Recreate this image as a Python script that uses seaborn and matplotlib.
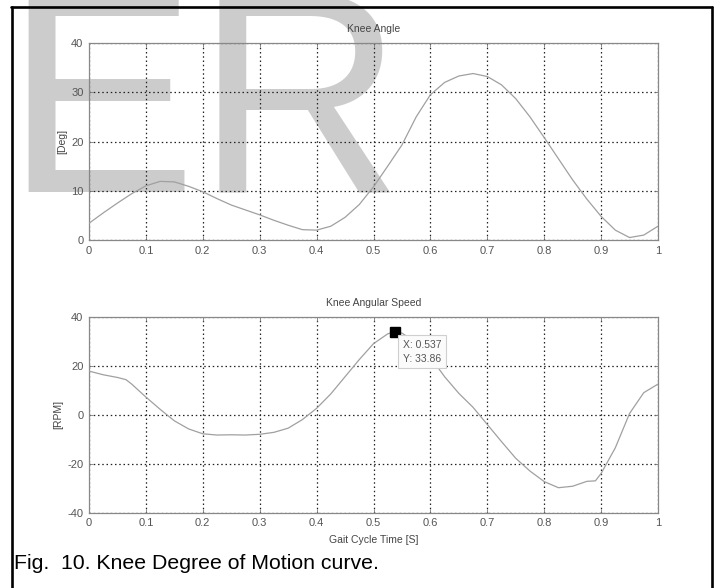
import numpy as np
import pandas as pd
import matplotlib
matplotlib.use("Agg")
import matplotlib.pyplot as plt
from matplotlib.lines import Line2D
import seaborn as sns

# ---- data ----
angle_t = [0.000, 0.025, 0.050, 0.075, 0.100, 0.125, 0.150, 0.175, 0.200, 0.225,
           0.250, 0.275, 0.300, 0.325, 0.350, 0.375, 0.400, 0.425, 0.450, 0.475,
           0.500, 0.525, 0.550, 0.575, 0.600, 0.625, 0.650, 0.675, 0.700, 0.725,
           0.750, 0.775, 0.800, 0.825, 0.850, 0.875, 0.900, 0.925, 0.950, 0.975, 1.000]
angle_deg = [3.4, 5.5, 7.5, 9.4, 11.0, 11.9, 11.8, 10.9, 9.8, 8.4,
             7.1, 6.1, 5.1, 4.0, 3.0, 2.1, 2.0, 2.8, 4.6, 7.2,
             10.8, 15.0, 19.3, 25.0, 29.5, 32.0, 33.3, 33.8, 33.2, 31.5,
             28.7, 25.0, 20.8, 16.5, 12.2, 8.3, 4.8, 2.0, 0.5, 1.0, 2.8]

speed_t = [0.000, 0.025, 0.050, 0.065, 0.075, 0.100, 0.125, 0.150, 0.175, 0.200,
           0.225, 0.250, 0.275, 0.300, 0.325, 0.350, 0.375, 0.400, 0.425, 0.450,
           0.475, 0.500, 0.525, 0.537, 0.550, 0.575, 0.600, 0.625, 0.650, 0.675,
           0.700, 0.725, 0.750, 0.775, 0.800, 0.825, 0.850, 0.875, 0.890, 0.900,
           0.925, 0.950, 0.975, 1.000]
speed_rpm = [17.8, 16.3, 15.2, 14.3, 12.5, 7.2, 2.2, -2.5, -5.8, -7.8,
             -8.3, -8.2, -8.3, -8.0, -7.2, -5.5, -2.0, 2.6, 8.5, 15.5,
             22.5, 29.0, 33.0, 33.86, 33.3, 29.5, 23.5, 15.5, 8.7, 3.0,
             -4.0, -11.0, -17.8, -23.0, -27.3, -29.8, -29.2, -27.2, -27.0, -24.0,
             -13.5, 0.5, 9.0, 12.5]

x_ticks = [0, 0.1, 0.2, 0.3, 0.4, 0.5, 0.6, 0.7, 0.8, 0.9, 1]
x_tick_labels = ["0", "0.1", "0.2", "0.3", "0.4", "0.5", "0.6", "0.7", "0.8", "0.9", "1"]
angle_yticks = [0, 10, 20, 30, 40]
speed_yticks = [-40, -20, 0, 20, 40]
tip_x, tip_y = 0.537, 33.86

sns.set_theme(style="white")
plt.rcParams["font.family"] = ["Liberation Sans", "DejaVu Sans"]
plt.rcParams["axes.unicode_minus"] = False

W, H = 719, 588
fig = plt.figure(figsize=(W / 100, H / 100), dpi=100)
fig.patch.set_facecolor("white")

def fx(px):
    return px / W

def fy(py):
    return 1 - py / H

# watermark
fig.text(fx(4), fy(192), "ER", fontsize=207, color="#cccccc", ha="left",
         va="baseline", zorder=-5, family="Liberation Sans")

# outer frame
lw_frame = 1.9
fig.add_artist(Line2D([fx(11.5), fx(11.5)], [fy(6.5), fy(590)], color="black", lw=lw_frame))
fig.add_artist(Line2D([fx(11), fx(712)], [fy(6.5), fy(6.5)], color="black", lw=lw_frame))
fig.add_artist(Line2D([fx(711.5), fx(711.5)], [fy(6.5), fy(590)], color="black", lw=lw_frame))

ax1 = fig.add_axes([fx(89), fy(240), (658 - 89) / W, (240 - 43) / H])
ax2 = fig.add_axes([fx(89), fy(512.7), (658 - 89) / W, (512.7 - 316.7) / H])

df1 = pd.DataFrame({"t": angle_t, "v": angle_deg})
df2 = pd.DataFrame({"t": speed_t, "v": speed_rpm})

line_col = "#a0a0a0"
sns.lineplot(data=df1, x="t", y="v", ax=ax1, color=line_col, lw=0.9, zorder=4)
sns.lineplot(data=df2, x="t", y="v", ax=ax2, color=line_col, lw=0.9, zorder=4)

txt_col = "#555555"
for ax, yt, ylim, title, ylab in [
    (ax1, angle_yticks, (0, 40), "Knee Angle", "[Deg]"),
    (ax2, speed_yticks, (-40, 40), "Knee Angular Speed", "[RPM]"),
]:
    ax.set_facecolor("none")
    ax.set_xlim(0, 1)
    ax.set_ylim(*ylim)
    ax.set_xticks(x_ticks)
    ax.set_xticklabels(x_tick_labels)
    ax.set_yticks(yt)
    ax.grid(True, linestyle=(0, (1.2, 2.2)), color="#222222", lw=0.9)
    ax.tick_params(axis="both", direction="in", length=3, width=0.6, color="#777777",
                   labelsize=8, labelcolor=txt_col, pad=4, top=True, right=True,
                   bottom=True, left=True)
    for s in ax.spines.values():
        s.set_color("#888888")
        s.set_linewidth(0.9)
    ax.set_title(title, fontsize=7.5, color="#444444", pad=8)
    ax.set_ylabel(ylab, fontsize=7.5, color="#444444", labelpad=3)
    ax.set_xlabel("")

ax2.set_xlabel("Gait Cycle Time [S]", fontsize=7.5, color="#444444", labelpad=5)

# data tip
ax2.plot([tip_x], [tip_y], marker="s", ms=6.5, color="black", zorder=6, ls="none")
ax2.annotate(f"X: {tip_x:.3f}\nY: {tip_y:.2f}", xy=(tip_x, tip_y),
             xytext=(6, -6), textcoords="offset points", ha="left", va="top",
             fontsize=7.5, color="#555555", linespacing=1.45,
             bbox=dict(boxstyle="square,pad=0.45", fc="#fbfbfb", ec="#cfcfcf", lw=0.8),
             zorder=7)

# caption
fig.text(fx(14), fy(569), "Fig.  10. Knee Degree of Motion curve.", fontsize=15.3,
         color="black", ha="left", va="baseline")

fig.savefig("out.png", dpi=100, facecolor="white")
